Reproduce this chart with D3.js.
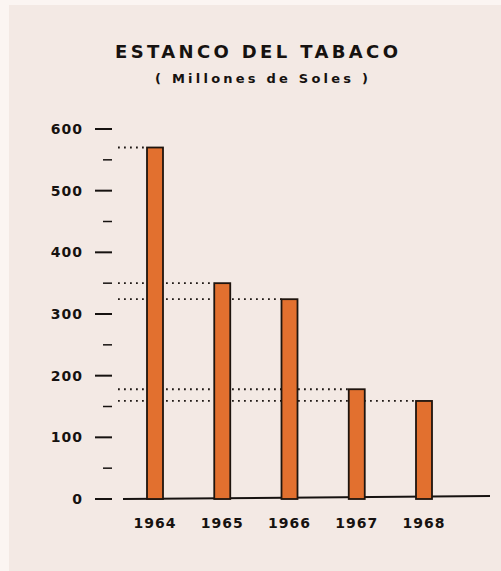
<!DOCTYPE html>
<html>
<head>
<meta charset="utf-8">
<script src="https://cdn.jsdelivr.net/npm/d3@7"></script>
<style>
  body { margin: 0; background: #fbf5f2; }
  svg { display: block; }
  text { font-family: "DejaVu Sans", sans-serif; font-weight: bold; fill: #161210; }
</style>
</head>
<body>
<div id="chart"></div>
<script>
// Data
const years = ["1964", "1965", "1966", "1967", "1968"];
const values = [570, 350, 324, 178, 159];
const majorTicks = [0, 100, 200, 300, 400, 500, 600];
const minorTicks = [50, 150, 250, 350, 450, 550];

const width = 501, height = 571;

let svg = d3.select("#chart")
    .append("svg")
    .attr("width", width)
    .attr("height", height);

// paper
svg.append("rect")
    .attr("x", 9).attr("y", 5)
    .attr("width", width - 9).attr("height", height - 5)
    .attr("fill", "#f3e9e4");

// Scales
let y = d3.scaleLinear().domain([0, 600]).range([499, 129]);
let x = d3.scalePoint().domain(years).range([155, 424]);
const barW = 16;

// Title
svg.append("text")
    .attr("x", 115).attr("y", 58)
    .attr("textLength", 283).attr("lengthAdjust", "spacing")
    .style("font-size", "18px")
    .text("ESTANCO DEL TABACO");

svg.append("text")
    .attr("x", 155).attr("y", 83)
    .attr("textLength", 213).attr("lengthAdjust", "spacing")
    .style("font-size", "13px")
    .text("( Millones de Soles )");

// Y axis ticks and labels
svg.append("g")
    .selectAll("line")
    .data(majorTicks)
    .enter()
    .append("line")
        .attr("x1", 95).attr("x2", 112)
        .attr("y1", d => y(d)).attr("y2", d => y(d))
        .attr("stroke", "#161210").attr("stroke-width", 2);

svg.append("g")
    .selectAll("line")
    .data(minorTicks)
    .enter()
    .append("line")
        .attr("x1", 103).attr("x2", 112)
        .attr("y1", d => y(d)).attr("y2", d => y(d))
        .attr("stroke", "#161210").attr("stroke-width", 1.5);

svg.append("g")
    .selectAll("text")
    .data(majorTicks)
    .enter()
    .append("text")
        .attr("x", 83)
        .attr("y", d => y(d) + 5)
        .attr("text-anchor", "end")
        .style("font-size", "14px")
        .style("letter-spacing", "1px")
        .text(d => d);

// Dotted guide lines (behind bars)
svg.append("g")
    .selectAll("line")
    .data(values)
    .enter()
    .append("line")
        .attr("x1", 118)
        .attr("x2", (d, i) => x(years[i]) - barW / 2)
        .attr("y1", d => y(d)).attr("y2", d => y(d))
        .attr("stroke", "#1e1814")
        .attr("stroke-width", 1.8)
        .attr("stroke-dasharray", "1.8,4.2");

// Baseline
svg.append("line")
    .attr("x1", 123).attr("x2", 490)
    .attr("y1", y(0)).attr("y2", y(0) - 3)
    .attr("stroke", "#161210").attr("stroke-width", 2);

// Bars
svg.append("g")
    .selectAll("rect")
    .data(values)
    .enter()
    .append("rect")
        .attr("x", (d, i) => x(years[i]) - barW / 2)
        .attr("y", d => y(d))
        .attr("width", barW)
        .attr("height", d => y(0) - y(d))
        .attr("fill", "#e2702f")
        .attr("stroke", "#1e140e")
        .attr("stroke-width", 1.8);

// X labels
svg.append("g")
    .selectAll("text")
    .data(years)
    .enter()
    .append("text")
        .attr("x", d => x(d))
        .attr("y", 528)
        .attr("text-anchor", "middle")
        .style("font-size", "14px")
        .style("letter-spacing", "1px")
        .text(d => d);
</script>
</body>
</html>
